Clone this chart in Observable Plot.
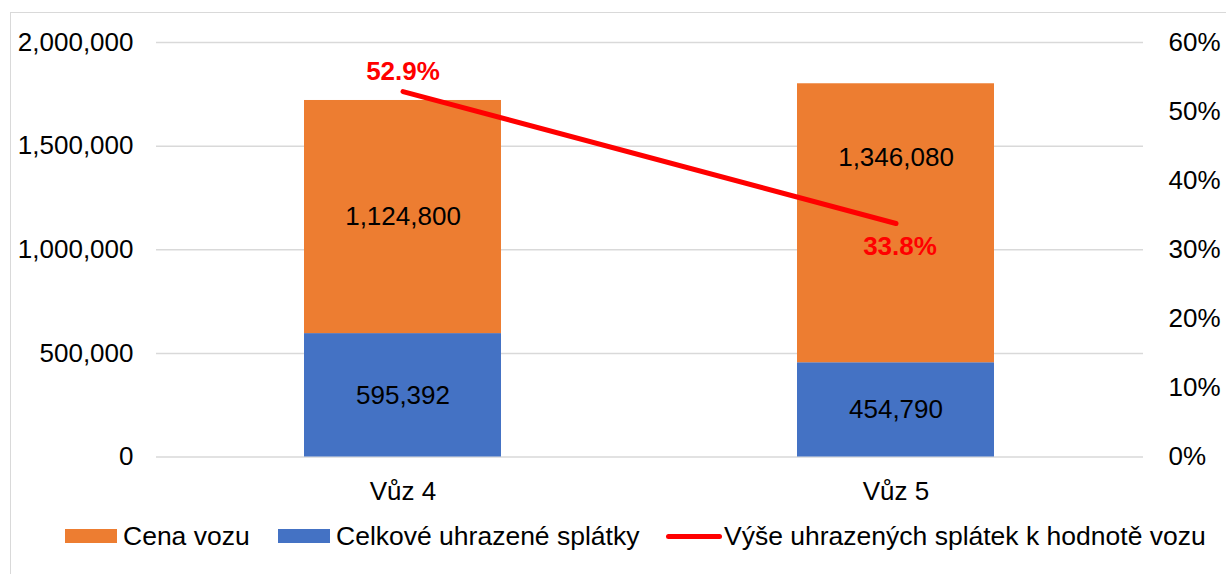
<!DOCTYPE html>
<html>
<head>
<meta charset="utf-8">
<script src="https://cdn.jsdelivr.net/npm/d3@7"></script>
<script src="https://cdn.jsdelivr.net/npm/@observablehq/plot@0.6"></script>
<style>
  html, body { margin: 0; padding: 0; background: #fff; overflow: hidden; }
  #wrap { position: relative; width: 1226px; height: 574px; font-family: "Liberation Sans", Arial, sans-serif; }
  #frame { position: absolute; left: 10px; top: 12px; width: 1240px; height: 600px; border: 1.5px solid #d9d9d9; box-sizing: border-box; }
  #chart { position: absolute; left: 0; top: 0; }
  .leg { position: absolute; top: 520px; height: 32px; display: flex; align-items: center; font-size: 26.5px; color: #000; white-space: nowrap; }
  .sw { display: inline-block; width: 52px; height: 14px; margin-right: 6px; }
  .ln { display: inline-block; width: 56px; height: 5px; border-radius: 3px; margin-right: 2px; }
</style>
</head>
<body>
<div id="wrap">
  <div id="frame"></div>
  <div id="chart"></div>
  <div id="legend"></div>
</div>
<script>
const cars = ["Vůz 4", "Vůz 5"];
const seriesNames = ["Celkové uhrazené splátky", "Cena vozu"];
const paidValues = [595392, 454790];
const priceValues = [1124800, 1346080];
const pctValues = [0.529, 0.338];
const pctLabels = ["52.9%", "33.8%"];
const leftTicks = [0, 500000, 1000000, 1500000, 2000000];
const rightTicks = [0, 0.1, 0.2, 0.3, 0.4, 0.5, 0.6];
const lineName = "Výše uhrazených splátek k hodnotě vozu";
const colors = ["#4472C4", "#ED7D31"];
const lineColor = "#FF0000";

const yMax = 2000000, pMax = 0.6;
const toY = p => p / pMax * yMax;

const rows = [];
cars.forEach((c, i) => {
  rows.push({car: c, series: seriesNames[0], value: paidValues[i], base: 0});
  rows.push({car: c, series: seriesNames[1], value: priceValues[i], base: paidValues[i]});
});
const pctRows = cars.map((c, i) => ({car: c, pct: pctValues[i], label: pctLabels[i]}));

const fmt = d3.format(",");
const fs = 26;
const mid = d => d.base + d.value / 2;
const isMoved = d => d.car === cars[1] && d.series === seriesNames[1];

const chart = Plot.plot({
  width: 1226,
  height: 510,
  marginTop: 42,
  marginBottom: 53.5,
  marginLeft: 156,
  marginRight: 83,
  style: {fontFamily: '"Liberation Sans", Arial, sans-serif', fontSize: fs + "px", color: "#000", background: "transparent"},
  x: {domain: cars, paddingInner: 0.6, paddingOuter: 0.3, label: null},
  y: {domain: [0, yMax], label: null},
  color: {domain: seriesNames, range: colors},
  marks: [
    Plot.gridY(leftTicks, {stroke: "#d9d9d9", strokeOpacity: 1, strokeWidth: 1.5}),
    Plot.barY(rows, Plot.stackY({x: "car", y: "value", fill: "series", z: "series", order: seriesNames})),
    Plot.text(rows.filter(d => !isMoved(d)), {x: "car", y: mid, text: d => fmt(d.value), fill: "#000", fontSize: fs}),
    Plot.text(rows.filter(isMoved), {x: "car", y: mid, text: d => fmt(d.value), fill: "#000", fontSize: fs, dy: -66}),
    Plot.line(pctRows, {x: "car", y: d => toY(d.pct), stroke: lineColor, strokeWidth: 5, strokeLinecap: "round"}),
    Plot.text([pctRows[0]], {x: "car", y: d => toY(d.pct), text: "label", fill: lineColor, fontWeight: "bold", fontSize: fs, dy: -20}),
    Plot.text([pctRows[1]], {x: "car", y: d => toY(d.pct), text: "label", fill: lineColor, fontWeight: "bold", fontSize: fs, dy: 23, dx: 4}),
    Plot.axisY(leftTicks, {anchor: "left", tickSize: 0, tickPadding: 23, tickFormat: fmt, fontSize: fs, label: null}),
    Plot.axisY(rightTicks.map(toY), {anchor: "right", tickSize: 0, tickPadding: 25, tickFormat: d => Math.round(d / yMax * pMax * 100) + "%", fontSize: fs, label: null}),
    Plot.axisX({tickSize: 0, tickPadding: 25, fontSize: fs, label: null})
  ]
});
document.getElementById("chart").appendChild(chart);

const legend = document.getElementById("legend");
const items = [
  {left: 65, kind: "sw", color: colors[1], text: seriesNames[1]},
  {left: 278, kind: "sw", color: colors[0], text: seriesNames[0]},
  {left: 666, kind: "ln", color: lineColor, text: lineName}
];
items.forEach(it => {
  const d = document.createElement("div");
  d.className = "leg";
  d.style.left = it.left + "px";
  const s = document.createElement("span");
  s.className = it.kind;
  s.style.background = it.color;
  d.appendChild(s);
  const t = document.createElement("span");
  t.textContent = it.text;
  d.appendChild(t);
  legend.appendChild(d);
});
</script>
</body>
</html>
